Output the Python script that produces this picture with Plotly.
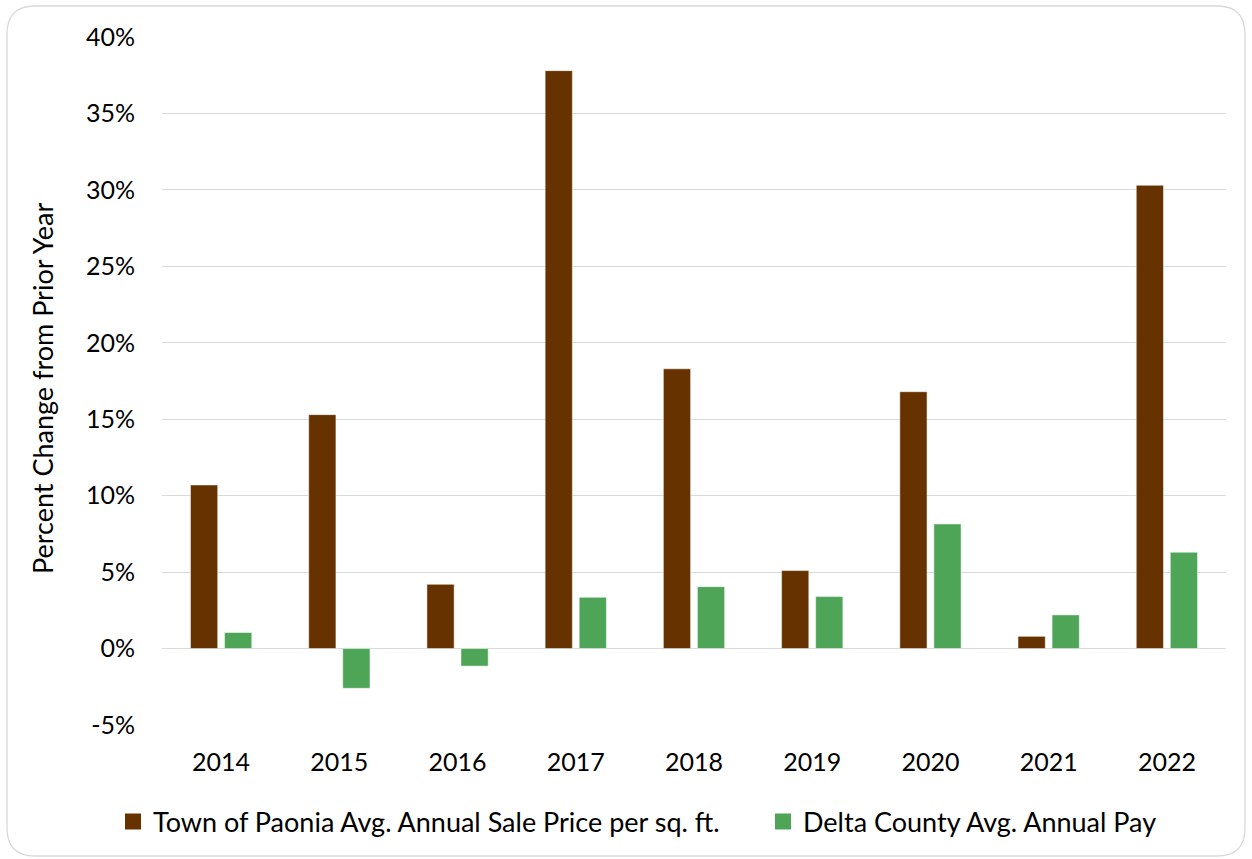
import plotly.graph_objects as go

years = ["2014", "2015", "2016", "2017", "2018", "2019", "2020", "2021", "2022"]
paonia = [10.7, 15.3, 4.2, 37.8, 18.3, 5.1, 16.8, 0.8, 30.3]
delta = [1.05, -2.6, -1.15, 3.35, 4.05, 3.4, 8.15, 2.2, 6.3]
series_names = ["Town of Paonia Avg. Annual Sale Price per sq. ft.", "Delta County Avg. Annual Pay"]
colors = ["#663300", "#4EA558"]
y_tickvals = [-5, 0, 5, 10, 15, 20, 25, 30, 35, 40]
y_ticktext = ["-5%", "0%", "5%", "10%", "15%", "20%", "25%", "30%", "35%", "40%"]
y_title = "Percent Change from Prior Year"

W, H = 1252, 859
L, R, T, B = 162, 26, 37, 134
FONT = "Lato"

def px2paper(x, y):
    return (x - L) / (W - L - R), (H - B - y) / (H - T - B)

fig = go.Figure()
for name, vals, col in [(series_names[0], paonia, colors[0]), (series_names[1], delta, colors[1])]:
    fig.add_trace(go.Bar(x=years, y=vals, name=name, showlegend=False,
                         marker=dict(color=col, line=dict(color="white", width=0.5))))
for name, col, lg in zip(series_names, colors, ["legend", "legend2"]):
    fig.add_trace(go.Scatter(x=[None], y=[None], mode="markers", name=name, legend=lg,
                             marker=dict(symbol="square", size=16, color=col)))

# rounded border
x0, y0, x1, y1, r = 7, 6, 1245, 856, 28
def P(x, y):
    a, b = px2paper(x, y)
    return f"{a:.5f},{b:.5f}"
path = (f"M {P(x0+r, y0)} L {P(x1-r, y0)} Q {P(x1, y0)} {P(x1, y0+r)} "
        f"L {P(x1, y1-r)} Q {P(x1, y1)} {P(x1-r, y1)} "
        f"L {P(x0+r, y1)} Q {P(x0, y1)} {P(x0, y1-r)} "
        f"L {P(x0, y0+r)} Q {P(x0, y0)} {P(x0+r, y0)} Z")
fig.add_shape(type="path", path=path, xref="paper", yref="paper",
              line=dict(color="#d9d9d9", width=1.3), layer="below")

tx, ty = px2paper(42, 389)
fig.add_annotation(text=y_title, textangle=-90, x=tx, y=ty, xref="paper", yref="paper",
                   showarrow=False, xanchor="center", yanchor="middle",
                   font=dict(size=27, family=FONT, color="#000000"))

l1x, ly = px2paper(113, 822)
l2x, _ = px2paper(763, 822)
leg_common = dict(orientation="h", y=ly, xanchor="left", yanchor="middle",
                  font=dict(size=27), itemwidth=30, bgcolor="rgba(0,0,0,0)")
fig.update_layout(
    width=W, height=H,
    margin=dict(l=L, r=R, t=T, b=B, autoexpand=False),
    paper_bgcolor="white", plot_bgcolor="white",
    font=dict(family=FONT, size=25, color="#000000"),
    barmode="group", bargap=0.424, bargroupgap=0.2,
    showlegend=True,
    legend=dict(x=l1x, **leg_common),
    legend2=dict(x=l2x, **leg_common),
    xaxis=dict(showgrid=False, showline=False, ticks="", tickfont=dict(size=25),
               ticklabelstandoff=20),
    yaxis=dict(range=[-5, 40], tickvals=y_tickvals, ticktext=y_ticktext, showgrid=True,
               gridcolor="#d9d9d9", gridwidth=1.3, zeroline=True,
               zerolinecolor="#d9d9d9", zerolinewidth=1.3, showline=False,
               tickfont=dict(size=25), ticklabelstandoff=26),
)
fig.write_html("out.html", config={"displayModeBar": False},
               post_script="document.body.style.margin='0';")
